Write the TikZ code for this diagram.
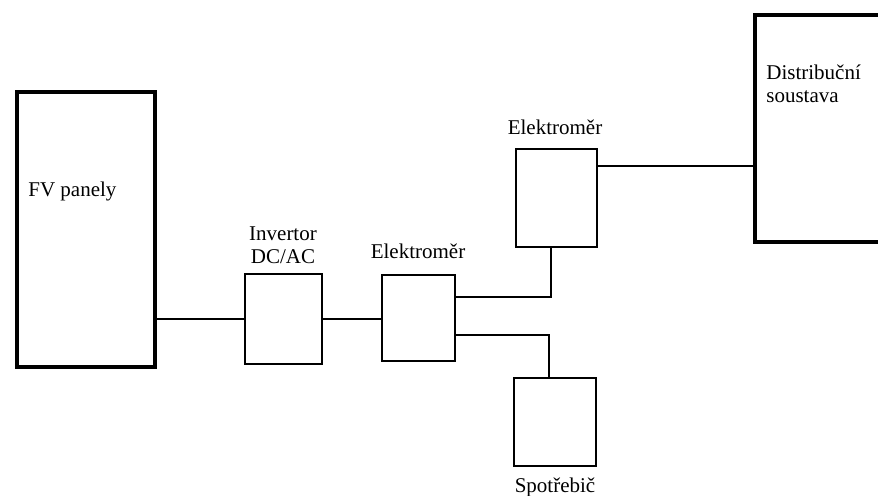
\documentclass[tikz,border=0pt]{standalone}
\usepackage{fontspec}
\setmainfont{Liberation Serif}
\usetikzlibrary{calc}

\begin{document}
\begin{tikzpicture}[x=0.5pt,y=-0.5pt,
	thickbox/.style={draw,line width=2.2pt,inner sep=0pt,outer sep=0pt},
	thinbox/.style={draw,line width=1pt,inner sep=0pt,outer sep=0pt},
	boxtext/.style={inner sep=0pt,font=\rmfamily\fontsize{10.5}{11.5}\selectfont,align=center}]
	\useasboundingbox (0,0) rectangle (878,496);
	
	\node[thickbox,minimum width=69pt,minimum height=137.5pt] (v1) at (86,229.5) {};
	\node[thinbox,minimum width=38.5pt,minimum height=45pt] (v2) at (283.5,319) {};
	\node[thinbox,minimum width=36.5pt,minimum height=43pt] (v3) at (418.5,318) {};
	\node[thinbox,minimum width=40.5pt,minimum height=49pt] (v4) at (556.5,198) {};
	\node[thickbox,minimum width=65pt,minimum height=113.5pt] (v5) at (820,128.5) {};
	\node[thinbox,minimum width=41pt,minimum height=44pt] (v6) at (555,422) {};
	
	\node[boxtext,anchor=north west] (t1) at (28,182) {FV panely};
	\node[boxtext,anchor=north] (t2) at (283,226) {Invertor\\DC/AC};
	\node[boxtext,anchor=north] (t3) at (418,243) {Elektroměr};
	\node[boxtext,anchor=north] (t4) at (555,119) {Elektroměr};
	\node[boxtext,anchor=north west,align=left] (t5) at (766,64) {Distribuční\\soustava};
	\node[boxtext,anchor=north] (t6) at (555,477) {Spotřebič};
	
	\coordinate (c1) at ($(v4.east)+(0,-32)$);
	
	\draw[line width=0.9pt] (v2.west) -- (v2.west -| v1.east);
	\draw[line width=0.9pt] (v2.east) -- (v2.east -| v3.west);
	\draw[line width=0.9pt] ($(v3.east)+(0,-21)$) -| ($(v4.south)+(-5.5,0)$);
	\draw[line width=0.9pt] ($(v3.east)+(0,17)$) -| ($(v6.north)+(-6,0)$);
	\draw[line width=0.9pt] (c1) -- (c1 -| v5.west);
\end{tikzpicture}
\end{document}
